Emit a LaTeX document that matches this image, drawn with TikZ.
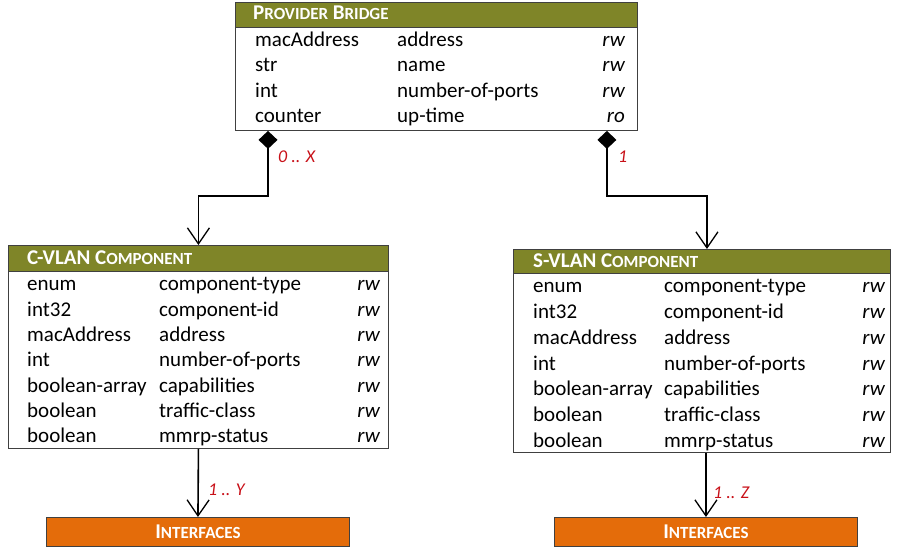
\documentclass[tikz,border=0pt]{standalone}
\usepackage{fontspec}
\setmainfont{Carlito}
\usetikzlibrary{arrows.meta}

\definecolor{olivehdr}{RGB}{127,133,40}
\definecolor{orangebox}{RGB}{228,108,10}
\definecolor{multred}{RGB}{200,16,24}

% fake small caps for the class titles
\newcommand{\smc}[1]{{\fontsize{17}{19}\selectfont #1}}

\tikzset{
  cls/.style={draw=black!75, fill=white, line width=0.9pt, anchor=north west, inner sep=0pt},
  hdr/.style={draw=black!75, fill=olivehdr, line width=0.9pt, anchor=north west, inner sep=0pt},
  htxt/.style={anchor=base west, inner sep=0pt, text=white, font=\fontsize{21}{24}\selectfont\bfseries},
  attr/.style={anchor=base west, inner sep=0pt, font=\fontsize{21}{24}\selectfont},
  acc/.style={anchor=base east, inner sep=0pt, font=\fontsize{21}{24}\selectfont\itshape},
  mult/.style={anchor=base west, inner sep=0pt, text=multred, font=\fontsize{18}{20}\selectfont\itshape},
  ifbox/.style={draw=black!75, fill=orangebox, line width=0.9pt, anchor=north west, inner sep=0pt,
    text=white, font=\fontsize{21}{24}\selectfont\bfseries},
  comp/.style={{Diamond[length=18pt,width=19pt]}-{Straight Barb[length=16pt,width=22pt,line width=1.3pt]}, line width=1.6pt},
  assoc/.style={-{Straight Barb[length=16pt,width=22pt,line width=1.3pt]}, line width=1.6pt}
}

\def\vlanrows{enum/component-type/rw, int32/component-id/rw, macAddress/address/rw,
  int/number-of-ports/rw, boolean-array/capabilities/rw, boolean/traffic-class/rw,
  boolean/mmrp-status/rw}

\begin{document}
\begin{tikzpicture}[x=1pt,y=-1pt]
\useasboundingbox (0,0) rectangle (898,548);

% provider bridge
\node[cls, minimum width=402pt, minimum height=128pt] (pb) at (235,2) {};
\node[hdr, minimum width=402pt, minimum height=25pt] (pbh) at (pb.north west) {};
\node[htxt] (pbt) at (253,20) {P\smc{ROVIDER} B\smc{RIDGE}};
\foreach \ty/\nm/\ac [count=\i from 0] in {macAddress/address/rw, str/name/rw,
    int/number-of-ports/rw, counter/up-time/ro} {
  \node[attr] (pb-ty\i) at (255,46.5+25.5*\i) {\ty};
  \node[attr] (pb-nm\i) at (397,46.5+25.5*\i) {\nm};
  \node[acc] (pb-ac\i) at (625,46.5+25.5*\i) {\ac};
}

% c-vlan component
\node[cls, minimum width=380pt, minimum height=203pt] (cv) at (8,245) {};
\node[hdr, minimum width=380pt, minimum height=26pt] (cvh) at (cv.north west) {};
\node[htxt] (cvt) at (27,265) {C-VLAN C\smc{OMPONENT}};
\foreach \ty/\nm/\ac [count=\i from 0] in \vlanrows {
  \node[attr] (cv-ty\i) at (27,291+25.3*\i) {\ty};
  \node[attr] (cv-nm\i) at (159,291+25.3*\i) {\nm};
  \node[acc] (cv-ac\i) at (380,291+25.3*\i) {\ac};
}

% s-vlan component
\node[cls, minimum width=377pt, minimum height=203pt] (sv) at (513,249) {};
\node[hdr, minimum width=377pt, minimum height=24pt] (svh) at (sv.north west) {};
\node[htxt] (svt) at (533,268) {S-VLAN C\smc{OMPONENT}};
\foreach \ty/\nm/\ac [count=\i from 0] in \vlanrows {
  \node[attr] (sv-ty\i) at (533,293+25.7*\i) {\ty};
  \node[attr] (sv-nm\i) at (664,293+25.7*\i) {\nm};
  \node[acc] (sv-ac\i) at (885,293+25.7*\i) {\ac};
}

% interfaces
\node[ifbox, minimum width=303pt, minimum height=29pt] (if1) at (46,517) {I\smc{NTERFACES}};
\node[ifbox, minimum width=303pt, minimum height=29pt] (if2) at (554,517) {I\smc{NTERFACES}};

% connectors
\draw[comp] ([xshift=33pt]pb.south west) -- ++(0,65) -| (cv.north);
\draw[comp] ([xshift=-31pt]pb.south east) -- ++(0,65) -| ([xshift=5pt]sv.north);
\draw[assoc] (cv.south) -- (if1.north);
\draw[assoc] (if2.north |- sv.south) -- (if2.north);

\node[mult] (m1) at (278,163) {0 .. X};
\node[mult] (m2) at (618,163) {1};
\node[mult] (m3) at (208,495) {1 .. Y};
\node[mult] (m4) at (713,498) {1 .. Z};
\end{tikzpicture}
\end{document}
